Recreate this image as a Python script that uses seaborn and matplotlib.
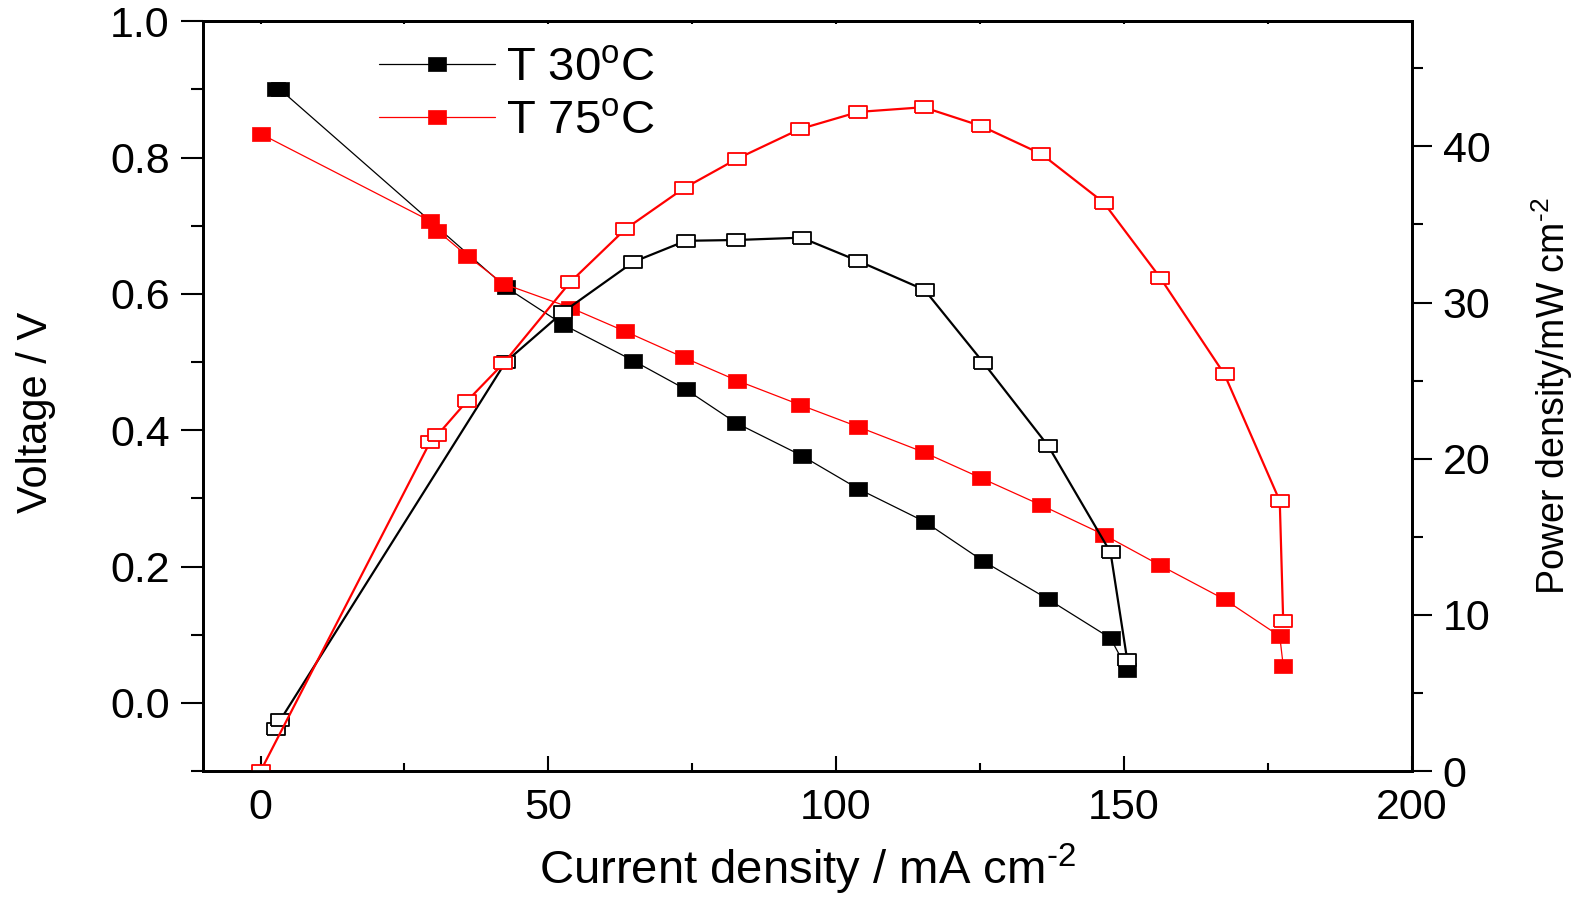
import matplotlib

matplotlib.use("Agg")
import matplotlib.pyplot as plt
import pandas as pd
import seaborn as sns
from matplotlib.ticker import FormatStrFormatter, MultipleLocator

# 30 degC run: current density (mA cm-2), cell voltage (V), power density (mW cm-2)
CURRENT_30C = [2.6, 3.4, 42.6, 52.6, 64.8, 73.9, 82.6, 94.0, 103.9, 115.4, 125.6, 136.9, 147.7, 150.6]
VOLTAGE_30C = [0.900, 0.900, 0.610, 0.555, 0.502, 0.460, 0.411, 0.363, 0.314, 0.266, 0.208, 0.152, 0.095, 0.049]
POWER_30C = [2.7, 3.25, 26.2, 29.4, 32.6, 33.95, 34.0, 34.15, 32.65, 30.8, 26.15, 20.8, 14.0, 7.1]

# 75 degC run
CURRENT_75C = [0.0, 29.5, 30.7, 35.9, 42.2, 53.8, 63.4, 73.5, 82.8, 93.7, 103.9, 115.2, 125.2,
               135.7, 146.5, 156.3, 167.5, 177.1, 177.7]
VOLTAGE_75C = [0.835, 0.707, 0.693, 0.656, 0.615, 0.580, 0.545, 0.507, 0.473, 0.4375, 0.405, 0.368,
               0.330, 0.290, 0.247, 0.202, 0.152, 0.098, 0.055]
POWER_75C = [0.0, 21.1, 21.5, 23.7, 26.1, 31.3, 34.7, 37.3, 39.2, 41.1, 42.2, 42.5, 41.3, 39.5,
             36.4, 31.6, 25.4, 17.3, 9.6]

SERIES_LABELS = ["T 30$^{\\rm o}$C", "T 75$^{\\rm o}$C"]
SERIES_COLORS = ["#000000", "#ff0000"]

X_LABEL = "Current density / mA cm$^{\\text{-2}}$"
Y_LABEL = "Voltage / V"
Y2_LABEL = "Power density/mW cm$^{\\text{-2}}$"

# slightly wide rectangle, like the Origin export
RECT = [(-1, -0.74), (1, -0.74), (1, 0.74), (-1, 0.74), (-1, -0.74)]


def _frames() -> list[pd.DataFrame]:
    runs = [(CURRENT_30C, VOLTAGE_30C, POWER_30C), (CURRENT_75C, VOLTAGE_75C, POWER_75C)]
    return [pd.DataFrame({"current": c, "voltage": v, "power": p}) for c, v, p in runs]


def main() -> None:
    sns.set_style("ticks")
    plt.rcParams["font.family"] = ["Liberation Sans", "DejaVu Sans"]
    plt.rcParams["mathtext.fontset"] = "custom"
    plt.rcParams["mathtext.rm"] = "Liberation Sans"
    plt.rcParams["mathtext.it"] = "Liberation Sans:italic"
    for key in ("text.color", "axes.labelcolor", "xtick.color", "ytick.color", "axes.edgecolor"):
        plt.rcParams[key] = "black"

    fig, ax = plt.subplots(figsize=(15.91, 8.99), dpi=100)
    fig.subplots_adjust(left=0.1276, right=0.8872, bottom=0.1422, top=0.9763)
    ax2 = ax.twinx()

    for df, label, color in zip(_frames(), SERIES_LABELS, SERIES_COLORS):
        sns.lineplot(
            data=df, x="current", y="voltage", ax=ax, sort=False, estimator=None,
            color=color, lw=0.9, marker=RECT, markersize=13.5,
            mfc=color, mec=color, mew=0.5, label=label,
        )
        sns.lineplot(
            data=df, x="current", y="power", ax=ax2, sort=False, estimator=None,
            color=color, lw=1.6, marker=RECT, markersize=12.5,
            mfc="white", mec=color, mew=1.3, legend=False,
        )

    ax.set_xlim(-10, 200)
    ax.set_ylim(-0.1, 1.0)
    ax2.set_ylim(0, 48)

    ax.xaxis.set_major_locator(MultipleLocator(50))
    ax.xaxis.set_minor_locator(MultipleLocator(25))
    ax.yaxis.set_major_locator(MultipleLocator(0.2))
    ax.yaxis.set_minor_locator(MultipleLocator(0.1))
    ax.yaxis.set_major_formatter(FormatStrFormatter("%.1f"))
    ax2.yaxis.set_major_locator(MultipleLocator(10))
    ax2.yaxis.set_minor_locator(MultipleLocator(5))

    ax.tick_params(axis="x", which="major", direction="in", length=11, width=1.5,
                   labelsize=31, pad=12, top=False)
    ax.tick_params(axis="x", which="minor", direction="in", length=6, width=1.5, top=False)
    ax.tick_params(axis="y", which="major", direction="out", length=16, width=1.5,
                   labelsize=31, pad=8)
    ax.tick_params(axis="y", which="minor", direction="out", length=8.5, width=1.5)
    ax2.tick_params(axis="y", which="major", direction="out", length=14.5, width=1.5,
                    labelsize=31, pad=8)
    ax2.tick_params(axis="y", which="minor", direction="out", length=8, width=1.5)

    top = ax.secondary_xaxis("top")
    top.xaxis.set_major_locator(MultipleLocator(25))
    top.tick_params(direction="in", length=2.5, width=1.5, labeltop=False)

    for a in (ax, ax2):
        for sp in a.spines.values():
            sp.set_linewidth(2)
    top.spines["top"].set_linewidth(2)

    ax.set_xlabel(X_LABEL, fontsize=34, va="center")
    ax.xaxis.set_label_coords(0.5, -0.131)
    ax.set_ylabel(Y_LABEL, fontsize=30, va="center")
    ax.yaxis.set_label_coords(-0.138, 0.478)
    ax2.set_ylabel(Y2_LABEL, fontsize=27, va="center", rotation=90)
    ax2.yaxis.set_label_coords(1.116, 0.5)

    handles, labels = ax.get_legend_handles_labels()
    ax.legend(handles, labels, loc="upper left", bbox_to_anchor=(0.146, 0.966), frameon=False,
              fontsize=34, handlelength=2.45, handletextpad=0.22, labelspacing=0.18,
              borderpad=0, borderaxespad=0)

    fig.savefig("out.png", dpi=100)
    plt.close(fig)


if __name__ == "__main__":
    main()
